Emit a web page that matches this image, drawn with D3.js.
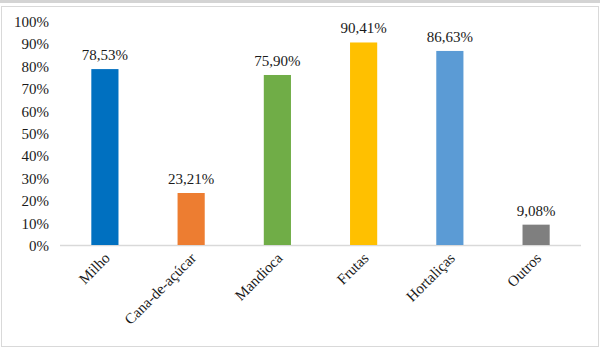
<!DOCTYPE html>
<html>
<head>
<meta charset="utf-8">
<script src="https://cdn.jsdelivr.net/npm/d3@7"></script>
<style>
  html, body { margin: 0; padding: 0; background: #fff; }
  svg { display: block; }
</style>
</head>
<body>
<div id="chart"></div>
<script>
// categories and values (percent)
const categories = ["Milho", "Cana-de-açúcar", "Mandioca", "Frutas", "Hortaliças", "Outros"];
const values = [78.53, 23.21, 75.90, 90.41, 86.63, 9.08];
const colors = ["#0070c0", "#ed7d31", "#70ad47", "#ffc000", "#5b9bd5", "#7f7f7f"];
const yTicks = [0, 10, 20, 30, 40, 50, 60, 70, 80, 90, 100];

const width = 600, height = 349;
const margin = { top: 21, right: 21, bottom: 104, left: 62 };
const font = "'Liberation Serif', 'Times New Roman', 'DejaVu Serif', serif";

const svg = d3.select("#chart")
    .append("svg")
    .attr("width", width)
    .attr("height", height);

// frame
svg.append("rect")
    .attr("x", 0).attr("y", 0)
    .attr("width", width).attr("height", 3)
    .style("fill", "#d4d4d4");
svg.append("rect")
    .attr("x", 1.5).attr("y", 6.5)
    .attr("width", width - 3).attr("height", height - 9)
    .style("fill", "none")
    .style("stroke", "#d9d9d9");

const x = d3.scaleBand()
    .domain(categories)
    .range([margin.left, width - margin.right])
    .paddingInner(0.685)
    .paddingOuter(0.34);

const y = d3.scaleLinear()
    .domain([0, 100])
    .range([height - margin.bottom, margin.top]);

// y axis labels
const yAxis = svg.append("g")
    .attr("transform", "translate(" + (margin.left - 13) + ",0)")
    .call(d3.axisLeft(y).tickValues(yTicks).tickSize(0).tickPadding(0).tickFormat(d => d + "%"));
yAxis.select(".domain").remove();
yAxis.attr("font-family", null).attr("font-size", null);
yAxis.selectAll("text")
    .style("font-family", font)
    .style("font-size", "15px")
    .style("fill", "#1a1a1a")
    .attr("dy", "0.36em");

// baseline
svg.append("line")
    .attr("x1", margin.left - 2)
    .attr("x2", width - margin.right + 2)
    .attr("y1", y(0) + 0.5)
    .attr("y2", y(0) + 0.5)
    .style("stroke", "#d9d9d9")
    .style("stroke-width", 1.5);

// bars
svg.selectAll("rect.bar")
    .data(values)
    .enter()
    .append("rect")
    .attr("class", "bar")
    .attr("x", (d, i) => x(categories[i]))
    .attr("y", d => y(d))
    .attr("width", x.bandwidth())
    .attr("height", d => y(0) - y(d))
    .style("fill", (d, i) => colors[i]);

// value labels
svg.selectAll("text.value")
    .data(values)
    .enter()
    .append("text")
    .attr("class", "value")
    .attr("x", (d, i) => x(categories[i]) + x.bandwidth() / 2)
    .attr("y", d => y(d) - 9)
    .attr("text-anchor", "middle")
    .style("font-family", font)
    .style("font-size", "15px")
    .style("fill", "#1a1a1a")
    .text(d => d.toFixed(2).replace(".", ",") + "%");

// category labels, rotated
const xAxis = svg.append("g")
    .attr("transform", "translate(0," + y(0) + ")")
    .call(d3.axisBottom(x).tickSize(0).tickPadding(0));
xAxis.select(".domain").remove();
xAxis.attr("font-family", null).attr("font-size", null);
xAxis.selectAll("text")
    .style("font-family", font)
    .style("font-size", "15px")
    .style("fill", "#1a1a1a")
    .attr("text-anchor", "end")
    .attr("dy", 0)
    .attr("transform", "translate(6,14) rotate(-45)");
</script>
</body>
</html>
